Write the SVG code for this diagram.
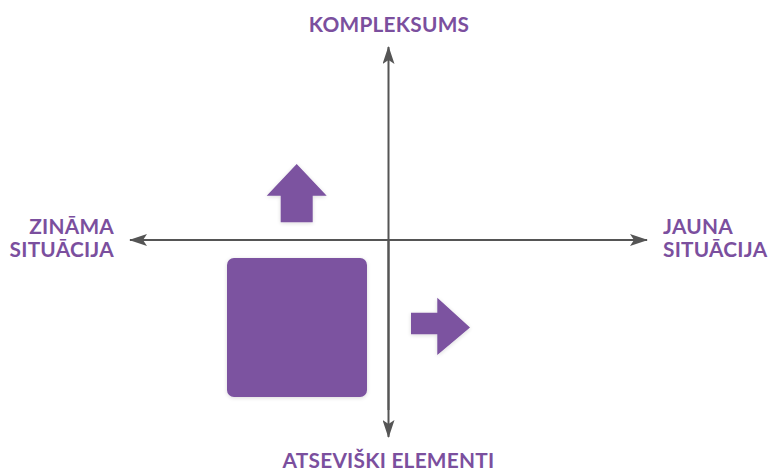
<svg xmlns="http://www.w3.org/2000/svg" width="769" height="471" viewBox="0 0 769 471">
<defs>
<marker id="ah" viewBox="0 0 18 12" markerWidth="18" markerHeight="12" refX="17" refY="6" orient="auto" markerUnits="userSpaceOnUse">
<path d="M0,0 L18,6 L0,12 L4,6 Z" fill="#555"/>
</marker>
<filter id="sh" x="-20%" y="-20%" width="140%" height="140%">
<feGaussianBlur in="SourceAlpha" stdDeviation="2"/>
<feOffset dx="0" dy="1"/>
<feComponentTransfer><feFuncA type="linear" slope="0.15"/></feComponentTransfer>
<feMerge><feMergeNode/><feMergeNode in="SourceGraphic"/></feMerge>
</filter>
</defs>
<style>
.lbl{font-family:Lato,"Liberation Sans",sans-serif;font-weight:bold;font-size:20.8px;letter-spacing:0.25px;fill:#7b4f9e}
.shape{fill:#7b52a0}
.ax{stroke:#555;stroke-width:2;fill:none}
</style>
<rect width="769" height="471" fill="#fff"/>
<g id="connectors">
<line class="ax" x1="388.5" y1="410" x2="388.5" y2="47" marker-end="url(#ah)"/>
<line class="ax" x1="388.5" y1="240" x2="388.5" y2="437" marker-end="url(#ah)"/>
<line class="ax" x1="388.5" y1="240" x2="130" y2="240" marker-end="url(#ah)"/>
<line class="ax" x1="388.5" y1="240" x2="647" y2="240" marker-end="url(#ah)"/>
</g>
<g id="square"><rect class="shape" x="227" y="258" width="140" height="139" rx="7" filter="url(#sh)"/></g>
<g id="arrow-up"><polygon class="shape" points="296.7,164 326.7,195.7 312.7,195.7 312.7,222.3 280.7,222.3 280.7,195.7 266.7,195.7" filter="url(#sh)"/></g>
<g id="arrow-right"><polygon class="shape" points="411,312.7 437.3,312.7 437.3,297.7 470,327.5 437.3,355 437.3,334.3 411,334.3" filter="url(#sh)"/></g>
<g id="label-top"><text class="lbl" x="389" y="31.5" text-anchor="middle">KOMPLEKSUMS</text></g>
<g id="label-left"><text class="lbl" x="114" y="234" text-anchor="end">ZINĀMA</text><text class="lbl" x="114" y="256.8" text-anchor="end">SITUĀCIJA</text></g>
<g id="label-right"><text class="lbl" x="663" y="234.3">JAUNA</text><text class="lbl" x="663" y="257.2">SITUĀCIJA</text></g>
<g id="label-bottom"><text class="lbl" x="388.5" y="467.7" text-anchor="middle">ATSEVIŠKI ELEMENTI</text></g>
</svg>
